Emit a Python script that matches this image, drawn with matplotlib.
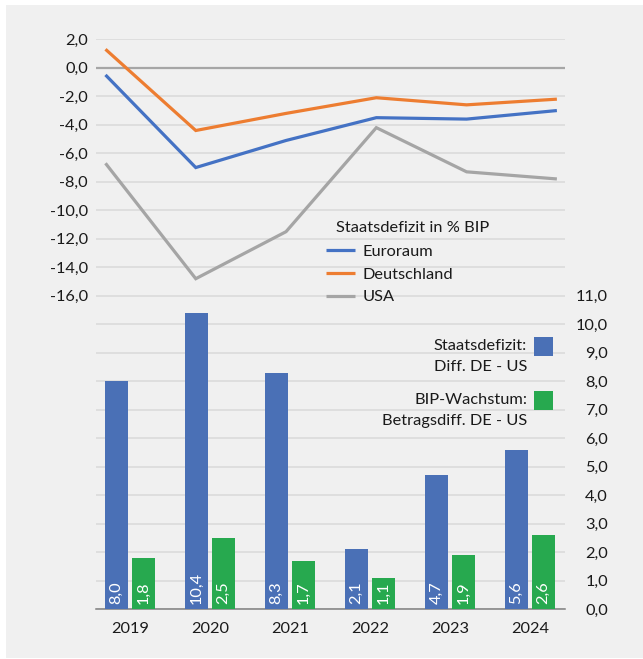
import matplotlib
matplotlib.use("Agg")
import matplotlib.pyplot as plt
import numpy as np
from matplotlib.patches import Rectangle
from matplotlib.ticker import FuncFormatter

plt.rcParams['font.family'] = ['Lato', 'DejaVu Sans']

# ---- data -------------------------------------------------------------
years = ['2019', '2020', '2021', '2022', '2023', '2024']
euroraum = [-0.5, -7.0, -5.1, -3.5, -3.6, -3.0]
deutschland = [1.3, -4.4, -3.2, -2.1, -2.6, -2.2]
usa = [-6.7, -14.8, -11.5, -4.2, -7.3, -7.8]
defizit_diff = [8.0, 10.4, 8.3, 2.1, 4.7, 5.6]
wachstum_diff = [1.8, 2.5, 1.7, 1.1, 1.9, 2.6]

left_ticks = np.arange(-16, 3, 2)
right_ticks = np.arange(0, 12, 1)

# ---- style ------------------------------------------------------------
C_EURO = '#4472C4'
C_DE = '#ED7D31'
C_US = '#A5A5A5'
C_BAR1 = '#4A70B6'
C_BAR2 = '#27A94F'
BG = '#F0F0F0'
GRID = '#D9D9D9'
TXT = '#1A1A1A'
FS = 11.8

W, H = 643, 659
fig = plt.figure(figsize=(W / 100, H / 100), dpi=100)
fig.patch.set_facecolor('white')
fig.patches.append(Rectangle((6 / W, 1 / H), (W - 6) / W, 653 / H,
                             transform=fig.transFigure, facecolor=BG,
                             edgecolor='none', zorder=-10))

rect = [96 / W, 1 - 609.3 / H, 469 / W, 570 / H]
ax_line = fig.add_axes(rect)
ax_bar = fig.add_axes(rect)
for a in (ax_line, ax_bar):
    a.set_facecolor('none')
    for s in a.spines.values():
        s.set_visible(False)

fmt = FuncFormatter(lambda v, p: f"{v:.1f}".replace('.', ','))

# ---- line chart (left axis) -------------------------------------------
ax_line.set_xlim(-0.105, 5.09)
ax_line.set_ylim(-38, 2)
ax_line.set_yticks(left_ticks)
ax_line.set_yticks(np.arange(-38, -16, 2), minor=True)
ax_line.yaxis.set_major_formatter(fmt)
ax_line.tick_params(axis='y', which='both', length=0, pad=5.8,
                    labelsize=FS, labelcolor=TXT)
ax_line.set_xticks([])
ax_line.grid(True, axis='y', which='both', color=GRID, lw=1.1, zorder=0)
ax_line.set_axisbelow(True)
ax_line.axhline(0, color='#A6A6A6', lw=1.6, zorder=1.5)

x_line = np.arange(len(years))
ax_line.plot(x_line, euroraum, color=C_EURO, lw=2.3, label='Euroraum',
             solid_capstyle='butt', solid_joinstyle='miter', zorder=3)
ax_line.plot(x_line, deutschland, color=C_DE, lw=2.3, label='Deutschland',
             solid_capstyle='butt', solid_joinstyle='miter', zorder=3)
ax_line.plot(x_line, usa, color=C_US, lw=2.3, label='USA',
             solid_capstyle='butt', solid_joinstyle='miter', zorder=3)

leg = ax_line.legend(loc='upper left',
                     bbox_to_anchor=(326 / W, 1 - 244.5 / H),
                     bbox_transform=fig.transFigure, frameon=False,
                     fontsize=FS, handlelength=1.75, handletextpad=0.5,
                     labelspacing=0.5, borderpad=0, borderaxespad=0)
for t in leg.get_texts():
    t.set_color(TXT)
fig.text(336 / W, 1 - 228 / H, 'Staatsdefizit in % BIP', fontsize=FS,
         color=TXT, ha='left', va='center')

# ---- bar chart (right axis) -------------------------------------------
ax_bar.set_xlim(-0.425, 5.4375)
ax_bar.set_ylim(0, 20)
ax_bar.yaxis.tick_right()
ax_bar.set_yticks(right_ticks)
ax_bar.yaxis.set_major_formatter(fmt)
ax_bar.tick_params(axis='y', length=0, pad=31, labelsize=FS, labelcolor=TXT)
for lbl in ax_bar.get_yticklabels():
    lbl.set_horizontalalignment('right')

x_bar = np.arange(len(years))
bw = 0.284
off = 0.169
ax_bar.bar(x_bar - off, defizit_diff, width=bw, color=C_BAR1, zorder=3)
ax_bar.bar(x_bar + off, wachstum_diff, width=bw, color=C_BAR2, zorder=3)
for xs, vals in ((x_bar - off, defizit_diff), (x_bar + off, wachstum_diff)):
    for xi, v in zip(xs, vals):
        ax_bar.annotate(f"{v:.1f}".replace('.', ','), xy=(xi, 0),
                        xytext=(0, 4), textcoords='offset points',
                        rotation=90, ha='center', va='bottom',
                        color='white', fontsize=FS, zorder=4)

ax_bar.set_xticks(x_bar)
ax_bar.set_xticklabels(years)
ax_bar.tick_params(axis='x', length=0, pad=9, labelsize=FS, labelcolor=TXT)
ax_bar.spines['bottom'].set_visible(True)
ax_bar.spines['bottom'].set_color('#7F7F7F')
ax_bar.spines['bottom'].set_linewidth(1.1)

# legend for the bars: labels on the left, swatches on the right
sw = 19
fig.patches.append(Rectangle((534 / W, 1 - 356 / H), sw / W, sw / H,
                             transform=fig.transFigure, facecolor=C_BAR1,
                             edgecolor='none'))
fig.patches.append(Rectangle((534 / W, 1 - 410 / H), sw / W, sw / H,
                             transform=fig.transFigure, facecolor=C_BAR2,
                             edgecolor='none'))
for y, s in [(346, 'Staatsdefizit:'), (367, 'Diff. DE - US'),
             (400.5, 'BIP-Wachstum:'), (421.5, 'Betragsdiff. DE - US')]:
    fig.text(527 / W, 1 - y / H, s, fontsize=FS, color=TXT,
             ha='right', va='center')

fig.savefig('out.png', dpi=100, facecolor=fig.get_facecolor())
